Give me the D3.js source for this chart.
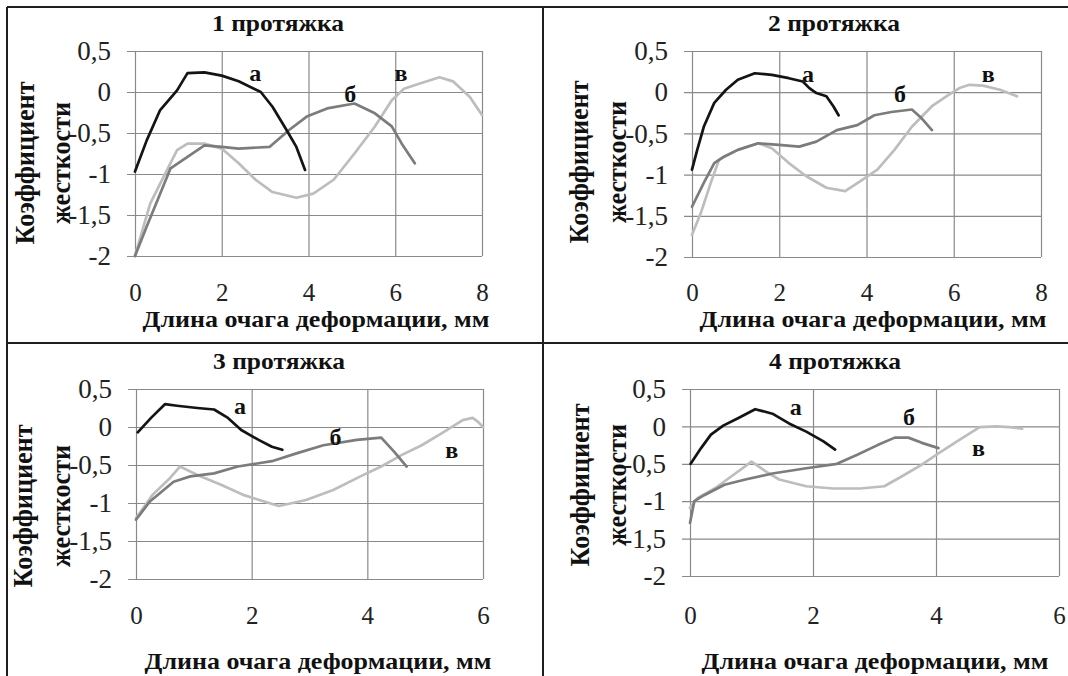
<!DOCTYPE html>
<html>
<head>
<meta charset="utf-8">
<script src="https://cdn.jsdelivr.net/npm/d3@7"></script>
<style>
  html, body { margin: 0; padding: 0; background: #fff; }
  svg { display: block; }
  svg text { font-family: "Liberation Serif", "Times New Roman", "DejaVu Serif", serif; }
  .ytick text { font-size: 27px; }
  .xtick text { font-size: 25px; }
  .slabel { font-size: 24px; font-weight: bold; }
  .ptitle { font-size: 24px; font-weight: bold; }
  .ytitle { font-size: 28px; font-weight: bold; }
  .xtitle { font-size: 23px; font-weight: bold; }
</style>
</head>
<body>
<svg id="chart" width="1068" height="676"></svg>
<script>
// ---------- DATA ----------
const panelTitles = ["1 протяжка", "2 протяжка", "3 протяжка", "4 протяжка"];
const seriesNames = ["а", "б", "в"];
const yTicks = [-2, -1.5, -1, -0.5, 0, 0.5];
const xTicksLong = [0, 2, 4, 6, 8];
const xTicksShort = [0, 2, 4, 6];
const yTitleLines = ["Коэффициент", "жесткости"];
const xTitle = "Длина очага деформации, мм";

// Panel 1
const p1aX = [0, 0.27, 0.58, 0.97, 1.21, 1.6, 2.0, 2.39, 2.9, 3.17, 3.49, 3.72, 3.92];
const p1aY = [-0.97, -0.59, -0.22, 0.02, 0.23, 0.24, 0.2, 0.13, 0.0, -0.18, -0.46, -0.67, -0.95];
const p1bX = [0, 0.27, 0.58, 0.82, 1.21, 1.6, 2.0, 2.39, 3.1, 3.56, 3.96, 4.43, 5.06, 5.53, 5.92, 6.15, 6.45];
const p1bY = [-2, -1.64, -1.24, -0.93, -0.79, -0.65, -0.67, -0.69, -0.67, -0.46, -0.3, -0.2, -0.14, -0.26, -0.42, -0.63, -0.87];
const p1vX = [0, 0.35, 0.74, 0.97, 1.21, 1.6, 2.0, 2.39, 2.78, 3.17, 3.72, 4.11, 4.58, 5.06, 5.53, 5.92, 6.2, 6.55, 7.02, 7.33, 7.72, 8.0];
const p1vY = [-2, -1.36, -0.95, -0.71, -0.63, -0.63, -0.69, -0.87, -1.07, -1.22, -1.29, -1.24, -1.07, -0.75, -0.42, -0.1, 0.04, 0.1, 0.18, 0.13, -0.06, -0.28];

// Panel 2
const p2aX = [0, 0.12, 0.27, 0.51, 0.78, 1.05, 1.44, 1.83, 2.22, 2.54, 2.69, 2.85, 3.08, 3.24, 3.36];
const p2aY = [-0.94, -0.7, -0.42, -0.13, 0.03, 0.15, 0.23, 0.21, 0.17, 0.13, 0.05, -0.01, -0.05, -0.17, -0.28];
const p2bX = [0, 0.27, 0.51, 0.74, 1.05, 1.52, 1.99, 2.46, 2.85, 3.32, 3.79, 4.18, 4.57, 5.04, 5.27, 5.5];
const p2bY = [-1.39, -1.1, -0.86, -0.78, -0.7, -0.62, -0.64, -0.66, -0.6, -0.46, -0.4, -0.28, -0.24, -0.21, -0.32, -0.46];
const p2vX = [0, 0.2, 0.43, 0.62, 1.05, 1.52, 1.83, 2.22, 2.62, 3.08, 3.51, 3.86, 4.25, 4.64, 5.04, 5.5, 5.89, 6.13, 6.36, 6.67, 7.06, 7.45];
const p2vY = [-1.73, -1.47, -1.1, -0.82, -0.7, -0.62, -0.68, -0.86, -1.02, -1.16, -1.2, -1.08, -0.94, -0.7, -0.42, -0.17, -0.03, 0.05, 0.09, 0.08, 0.03, -0.05];

// Panel 3
const p3aX = [0.03, 0.26, 0.5, 0.71, 1.06, 1.35, 1.59, 1.82, 2.12, 2.35, 2.53];
const p3aY = [-0.07, 0.12, 0.3, 0.28, 0.25, 0.23, 0.12, -0.04, -0.17, -0.26, -0.3];
const p3bX = [0, 0.24, 0.65, 0.94, 1.35, 1.76, 2.35, 2.76, 3.24, 3.82, 4.24, 4.47, 4.68];
const p3bY = [-1.22, -0.98, -0.72, -0.65, -0.61, -0.52, -0.45, -0.35, -0.24, -0.17, -0.14, -0.33, -0.52];
const p3vX = [0, 0.29, 0.59, 0.76, 1.06, 1.47, 1.88, 2.47, 2.94, 3.41, 3.88, 4.24, 4.59, 4.94, 5.29, 5.65, 5.82, 5.91, 6.0];
const p3vY = [-1.2, -0.89, -0.67, -0.52, -0.63, -0.76, -0.9, -1.04, -0.96, -0.83, -0.65, -0.52, -0.37, -0.24, -0.08, 0.09, 0.12, 0.07, 0.0];

// Panel 4
const p4aX = [0.01, 0.18, 0.34, 0.54, 0.78, 1.06, 1.34, 1.61, 1.89, 2.17, 2.36];
const p4aY = [-0.5, -0.29, -0.11, 0.01, 0.11, 0.23, 0.17, 0.04, -0.07, -0.2, -0.31];
const p4bX = [0, 0.07, 0.23, 0.56, 0.9, 1.34, 1.89, 2.39, 2.72, 3.05, 3.33, 3.55, 3.77, 4.04];
const p4bY = [-1.29, -1.0, -0.92, -0.78, -0.71, -0.63, -0.56, -0.5, -0.38, -0.25, -0.15, -0.15, -0.22, -0.29];
const p4vX = [0, 0.12, 0.4, 0.67, 1.0, 1.23, 1.45, 1.89, 2.33, 2.77, 3.16, 3.44, 3.77, 4.04, 4.38, 4.71, 4.98, 5.2, 5.4];
const p4vY = [-1.09, -0.96, -0.83, -0.67, -0.47, -0.6, -0.71, -0.8, -0.83, -0.83, -0.8, -0.67, -0.51, -0.36, -0.18, -0.01, 0.0, -0.01, -0.03];

// ---------- LAYOUT ----------
const seriesColors = ["#141414", "#7c7c7c", "#bdbdbd"];
const panels = [
  { title: panelTitles[0], xMax: 8, xTicks: xTicksLong, x0: 135, x1: 482, y0: 256, y1: 51,
    titleX: 278, titleY: 31, yTitleX: [34, 70], yTitleCY: 163, xTitleX: 316, xTitleY: 327, xTickY: 301,
    series: [[p1aX, p1aY], [p1bX, p1bY], [p1vX, p1vY]],
    labels: [[2.77, 0.23], [4.96, -0.02], [6.13, 0.23]] },
  { title: panelTitles[1], xMax: 8, xTicks: xTicksLong, x0: 692, x1: 1041, y0: 257, y1: 51,
    titleX: 834, titleY: 31, yTitleX: [588, 626], yTitleCY: 162, xTitleX: 873, xTitleY: 327, xTickY: 301,
    series: [[p2aX, p2aY], [p2bX, p2bY], [p2vX, p2vY]],
    labels: [[2.66, 0.22], [4.77, -0.02], [6.79, 0.22]] },
  { title: panelTitles[2], xMax: 6, xTicks: xTicksShort, x0: 136, x1: 483, y0: 579, y1: 389,
    titleX: 279, titleY: 369, yTitleX: [32, 70], yTitleCY: 506, xTitleX: 318, xTitleY: 669, xTickY: 624,
    series: [[p3aX, p3aY], [p3bX, p3bY], [p3vX, p3vY]],
    labels: [[1.8, 0.28], [3.45, -0.13], [5.46, -0.3]] },
  { title: panelTitles[3], xMax: 6, xTicks: xTicksShort, x0: 690, x1: 1059, y0: 576, y1: 389,
    titleX: 835, titleY: 369, yTitleX: [589, 626], yTitleCY: 485, xTitleX: 875, xTitleY: 669, xTickY: 624,
    series: [[p4aX, p4aY], [p4bX, p4bY], [p4vX, p4vY]],
    labels: [[1.72, 0.26], [3.56, 0.13], [4.69, -0.29]] }
];

const svg = d3.select("#chart");
const fmt = v => String(v).replace(".", ",");

panels.forEach(p => {
  const x = d3.scaleLinear().domain([0, p.xMax]).range([p.x0, p.x1]);
  const y = d3.scaleLinear().domain([-2, 0.5]).range([p.y0, p.y1]);
  const W = p.x1 - p.x0, H = p.y0 - p.y1;
  const g = svg.append("g");

  // horizontal grid + outside stub ticks
  g.append("g").attr("transform", `translate(${p.x0},0)`)
    .call(d3.axisLeft(y).tickValues(yTicks).tickSizeInner(-W).tickSizeOuter(0).tickFormat(""))
    .call(a => a.select(".domain").remove())
    .call(a => a.selectAll("line").attr("stroke", "#8a8a8a").attr("stroke-width", 1.2).attr("x1", -8));
  // vertical grid
  g.append("g").attr("transform", `translate(0,${p.y0})`)
    .call(d3.axisBottom(x).tickValues(p.xTicks).tickSizeInner(-H).tickSizeOuter(0).tickFormat(""))
    .call(a => a.select(".domain").remove())
    .call(a => a.selectAll("line").attr("stroke", "#8a8a8a").attr("stroke-width", 1.2));

  // y tick labels
  g.append("g").attr("class", "ytick").attr("transform", `translate(${p.x0},0)`)
    .call(d3.axisLeft(y).tickValues(yTicks).tickSize(0).tickPadding(24).tickFormat(fmt))
    .attr("font-family", null).attr("font-size", null)
    .call(a => a.select(".domain").remove())
    .call(a => a.selectAll("text").attr("fill", "#222"));
  // x tick labels
  g.append("g").attr("class", "xtick").attr("transform", `translate(0,${p.y0})`)
    .call(d3.axisBottom(x).tickValues(p.xTicks).tickSize(0).tickPadding(0).tickFormat(fmt))
    .attr("font-family", null).attr("font-size", null)
    .call(a => a.select(".domain").remove())
    .call(a => a.selectAll("text").attr("fill", "#222").attr("dy", null).attr("y", p.xTickY - p.y0));

  // series lines: draw light first
  const line = d3.line().x(d => x(d[0])).y(d => y(d[1]));
  [2, 1, 0].forEach(i => {
    const [xs, ys] = p.series[i];
    const pts = xs.map((v, k) => [v, ys[k]]);
    g.append("path").datum(pts).attr("d", line)
      .attr("fill", "none").attr("stroke", seriesColors[i])
      .attr("stroke-width", 2.7).attr("stroke-linejoin", "round").attr("stroke-linecap", "round");
  });

  // series labels
  p.labels.forEach((l, i) => {
    g.append("text").attr("class", "slabel").attr("x", x(l[0])).attr("y", y(l[1]))
      .attr("text-anchor", "middle").attr("dominant-baseline", "central")
      .attr("fill", "#111")
      .text(seriesNames[i]);
  });

  // title
  g.append("text").attr("class", "ptitle").attr("x", p.titleX).attr("y", p.titleY).attr("text-anchor", "middle")
    .attr("fill", "#111")
    .attr("textLength", 132).attr("lengthAdjust", "spacingAndGlyphs")
    .text(p.title);

  // y title (two rotated lines)
  const yLens = [163, 122];
  yTitleLines.forEach((t, i) => {
    g.append("text").attr("class", "ytitle")
      .attr("transform", `translate(${p.yTitleX[i]},${p.yTitleCY}) rotate(-90)`)
      .attr("text-anchor", "middle").attr("fill", "#111")
      .attr("textLength", yLens[i]).attr("lengthAdjust", "spacingAndGlyphs")
      .text(t);
  });

  // x title
  g.append("text").attr("class", "xtitle").attr("x", p.xTitleX).attr("y", p.xTitleY).attr("text-anchor", "middle")
    .attr("fill", "#111")
    .attr("textLength", 347).attr("lengthAdjust", "spacingAndGlyphs")
    .text(xTitle);
});

// panel frame lines
const frame = svg.append("g").attr("stroke", "#1e1e1e").attr("stroke-width", 2);
frame.append("line").attr("x1", 7).attr("y1", 7).attr("x2", 1068).attr("y2", 7);
frame.append("line").attr("x1", 7).attr("y1", 7).attr("x2", 7).attr("y2", 676);
frame.append("line").attr("x1", 543).attr("y1", 7).attr("x2", 543).attr("y2", 676);
frame.append("line").attr("x1", 7).attr("y1", 343).attr("x2", 1068).attr("y2", 343);
</script>
</body>
</html>
